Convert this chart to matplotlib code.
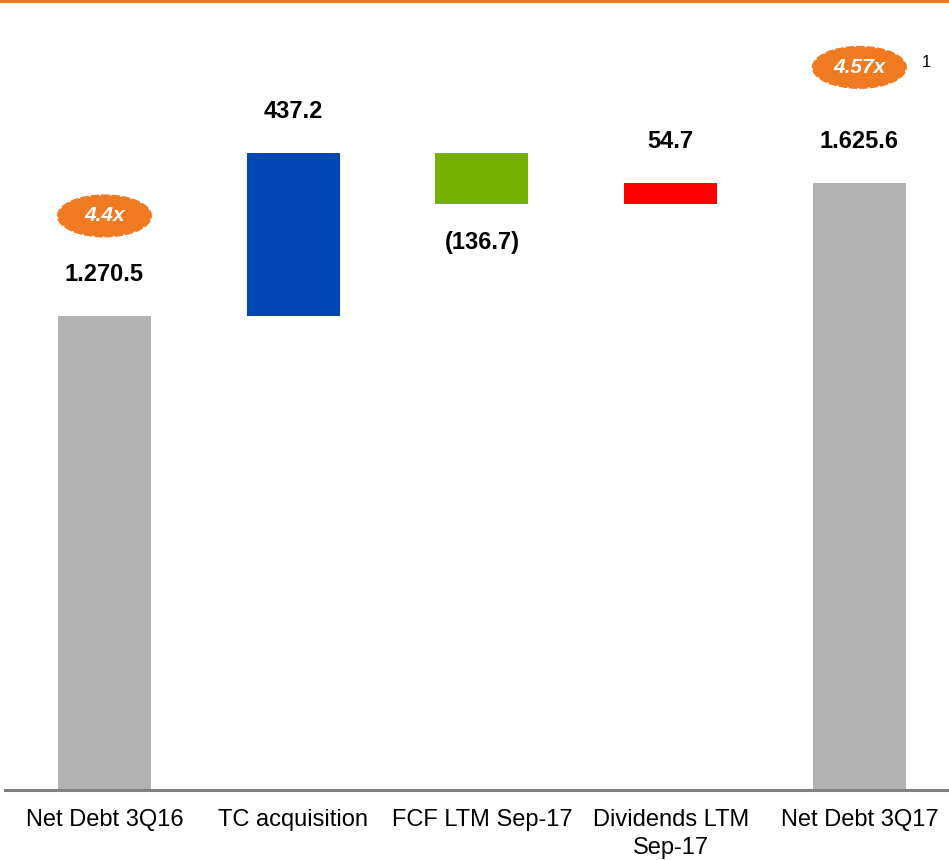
import numpy as np
import matplotlib.pyplot as plt
from matplotlib.patches import Ellipse

plt.rcParams['font.family'] = ['Liberation Sans', 'DejaVu Sans']

categorias = ['Net Debt 3Q16', 'TC acquisition', 'FCF LTM Sep-17', 'Dividends LTM\nSep-17', 'Net Debt 3Q17']
valores = [1270.5, 437.2, -136.7, 54.7, 1625.6]
etiquetas = ['1.270.5', '437.2', '(136.7)', '54.7', '1.625.6']
colores = ['#b2b2b2', '#0047b3', '#74b000', '#ff0000', '#b2b2b2']
multiplos = {0: '4.4x', 4: '4.57x'}

naranja = '#f07a22'

# bases del waterfall
bases = []
alturas = []
acum = 0
for i, v in enumerate(valores):
    if i == 0 or i == len(valores) - 1:
        bases.append(0)
        alturas.append(v)
        acum = v
    else:
        if v >= 0:
            bases.append(acum)
            alturas.append(v)
        else:
            bases.append(acum + v)
            alturas.append(-v)
        acum = acum + v

fig = plt.figure(figsize=(9.49, 8.6), dpi=100)
ax = fig.add_axes([5 / 949, 70 / 860, 944 / 949, 790 / 860])

x = np.arange(len(categorias))
ax.bar(x, alturas, bottom=bases, width=0.493, color=colores, zorder=2)

ax.set_xlim(-0.527, 4.475)
ax.set_ylim(0, 2117)
ax.axhline(0, color='#808080', lw=2.2, zorder=3, clip_on=False)
for s in ax.spines.values():
    s.set_visible(False)
ax.set_yticks([])
ax.set_xticks(x)
ax.set_xticklabels(categorias, fontsize=17, linespacing=1.3)
ax.tick_params(axis='x', length=0, pad=14)

# etiquetas de valor
for i, v in enumerate(valores):
    if v >= 0:
        y = bases[i] + alturas[i]
        ax.annotate(etiquetas[i], (x[i], y), xytext=(0, 30), textcoords='offset points',
                    ha='center', va='center', fontsize=17, fontweight='bold')
    else:
        ax.annotate(etiquetas[i], (x[i], bases[i]), xytext=(0, -28), textcoords='offset points',
                    ha='center', va='center', fontsize=17, fontweight='bold')

# globos naranjas
px_y = 2117 / 790
px_x = (4.475 + 0.527) / 944
for i, txt in multiplos.items():
    top = bases[i] + alturas[i]
    off = 100 if i == 0 else 116
    yc = top + off * px_y
    e = Ellipse((x[i], yc), 93 * px_x, 41 * px_y, facecolor=naranja,
                edgecolor=naranja, lw=1.5, ls=(0, (4, 1)), zorder=4)
    ax.add_patch(e)
    ax.text(x[i], yc, txt, ha='center', va='center', color='white',
            fontsize=15, fontweight='bold', style='italic', zorder=5)
    if i == 4:
        ax.text(x[i] + 62 * px_x, yc + 5 * px_y, '1', ha='left', va='center', fontsize=12)

# linea naranja superior
fig.add_artist(plt.Line2D([0, 1], [0.9985, 0.9985], color=naranja, lw=3, transform=fig.transFigure))

fig.savefig('out.png', dpi=100)
